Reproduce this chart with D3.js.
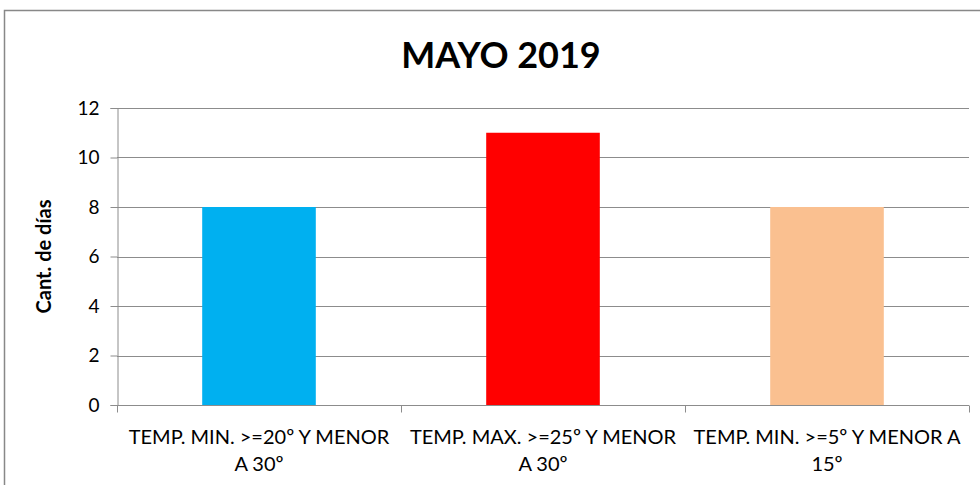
<!DOCTYPE html>
<html>
<head>
<meta charset="utf-8">
<script src="https://cdn.jsdelivr.net/npm/d3@7"></script>
<style>
  body { margin: 0; background: #fff; }
  svg { display: block; font-family: Lato, "Open Sans", sans-serif; }
</style>
</head>
<body>
<div id="chart"></div>
<script>
// chart data
const categories = [
    'TEMP. MIN. >=20º Y MENOR A 30º',
    'TEMP. MAX. >=25º Y MENOR A 30º',
    'TEMP. MIN. >=5º Y MENOR A 15º'
];
const dias = [8, 11, 8];
const barColors = ['#00B0F0', '#FF0000', '#FAC090'];
const yTicks = [0, 2, 4, 6, 8, 10, 12];

const width = 980, height = 485;
const margin = { top: 108, right: 11, bottom: 80, left: 117 };
const plotW = width - margin.left - margin.right;
const plotH = height - margin.top - margin.bottom;

const svg = d3.select('#chart').append('svg')
    .attr('width', width)
    .attr('height', height);

// outer chart border
svg.append('rect')
    .attr('x', 4.5).attr('y', 10.5)
    .attr('width', 990).attr('height', 500)
    .attr('fill', 'none')
    .attr('stroke', '#888')
    .attr('stroke-width', 1.5);

svg.append('text')
    .attr('x', 501).attr('y', 68)
    .attr('text-anchor', 'middle')
    .style('font-size', '36px')
    .style('font-weight', 'bold')
    .text('MAYO 2019');

const g = svg.append('g').attr('transform', `translate(${margin.left},${margin.top})`);

const x = d3.scaleBand().domain(categories).range([0, plotW]).paddingInner(0.6).paddingOuter(0.3);
const xCat = d3.scaleBand().domain(categories).range([0, plotW]);
const y = d3.scaleLinear().domain([0, 12]).range([plotH, 0]);

// gridlines
g.append('g')
    .selectAll('line')
    .data(yTicks.filter(d => d > 0))
    .enter().append('line')
    .attr('x1', 0).attr('x2', plotW)
    .attr('y1', d => Math.round(y(d)) + 0.5)
    .attr('y2', d => Math.round(y(d)) + 0.5)
    .attr('stroke', '#8c8c8c');

// bars
g.append('g')
    .selectAll('rect')
    .data(dias)
    .enter().append('rect')
    .attr('x', (d, i) => x(categories[i]))
    .attr('y', d => y(d))
    .attr('width', x.bandwidth())
    .attr('height', d => plotH - y(d))
    .attr('fill', (d, i) => barColors[i]);

// y axis
const yAxis = g.append('g')
    .attr('transform', 'translate(0.5,0)')
    .call(d3.axisLeft(y).tickValues(yTicks).tickSize(7).tickPadding(11));
yAxis.attr('font-family', null).attr('font-size', null);
yAxis.selectAll('text').style('font-size', '19px').attr('fill', '#000');
yAxis.selectAll('line, path').attr('stroke', '#8c8c8c');

// x axis with ticks at category boundaries
const xAxisG = g.append('g').attr('transform', `translate(0,${plotH + 0.5})`);
xAxisG.append('line').attr('x1', 0).attr('x2', plotW).attr('stroke', '#8c8c8c');
xAxisG.selectAll('line.tick')
    .data(d3.range(categories.length + 1))
    .enter().append('line')
    .attr('class', 'tick')
    .attr('x1', d => Math.round(d * xCat.step()) + 0.5)
    .attr('x2', d => Math.round(d * xCat.step()) + 0.5)
    .attr('y1', 0).attr('y2', 7)
    .attr('stroke', '#8c8c8c');

function wrap(text, w) {
    text.each(function() {
        const t = d3.select(this);
        const words = t.text().split(/\s+/);
        t.text(null);
        let line = [];
        let tspan = t.append('tspan').attr('x', t.attr('x')).attr('dy', 0);
        words.forEach(word => {
            line.push(word);
            tspan.text(line.join(' '));
            if (tspan.node().getComputedTextLength() > w && line.length > 1) {
                line.pop();
                tspan.text(line.join(' '));
                line = [word];
                tspan = t.append('tspan').attr('x', t.attr('x')).attr('dy', 27).text(word);
            }
        });
    });
}

xAxisG.selectAll('text.cat')
    .data(categories)
    .enter().append('text')
    .attr('class', 'cat')
    .attr('x', d => xCat(d) + xCat.bandwidth() / 2)
    .attr('y', 38)
    .attr('text-anchor', 'middle')
    .style('font-size', '20px')
    .text(d => d)
    .call(wrap, 271);

// y axis title
svg.append('text')
    .attr('transform', `translate(51,${margin.top + plotH / 2}) rotate(-90)`)
    .attr('text-anchor', 'middle')
    .style('font-size', '20px')
    .style('font-weight', 'bold')
    .text('Cant. de días');
</script>
</body>
</html>
